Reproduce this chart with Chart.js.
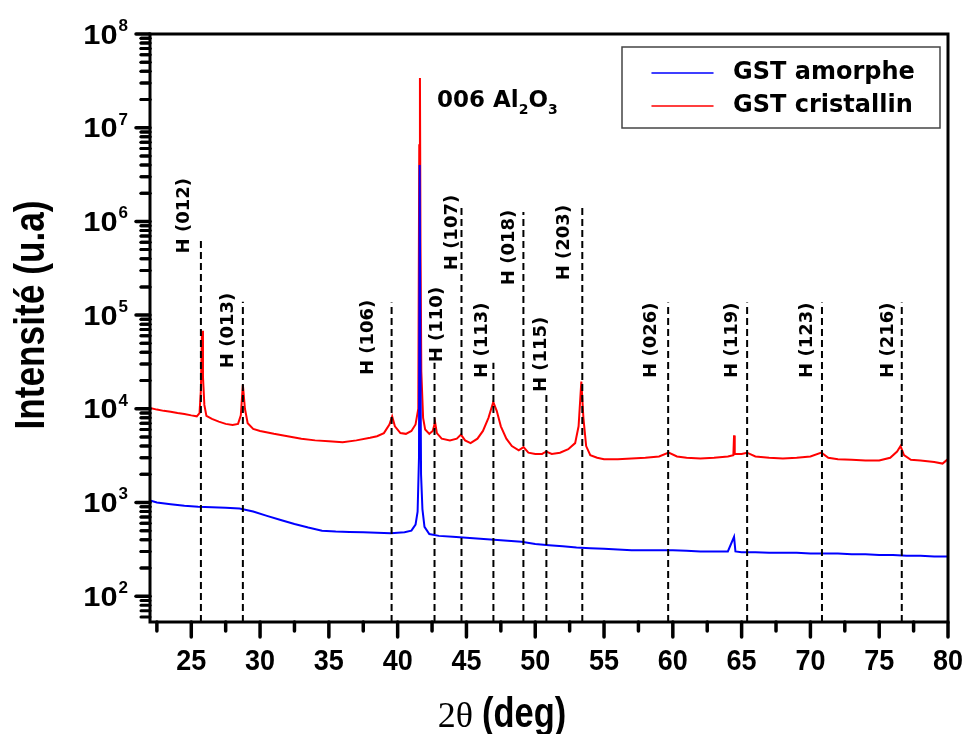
<!DOCTYPE html>
<html>
<head>
<meta charset="utf-8">
<script src="https://cdn.jsdelivr.net/npm/chart.js@4.4.1/dist/chart.umd.min.js"></script>
<style>
  body { margin: 0; background: #fff; }
  #wrap { width: 965px; height: 734px; }
</style>
</head>
<body>
<div id="wrap"><canvas id="cht-xrd" width="965" height="734"></canvas></div>
<script>
// 2theta (deg) / intensity
var amorpheTheta = [22, 22.5, 23.5, 24.5, 25.5, 26.5, 27.5, 28.5, 29.5, 30.5, 31.5, 32.5, 33.5, 34.5, 35.5, 36.5, 37.5, 38.5, 39.5, 40.5, 41, 41.3, 41.45, 41.55, 41.6, 41.65, 41.7, 41.8, 41.95, 42.3, 43, 44, 45, 46, 47, 48, 49, 50, 51, 52, 53, 54, 55, 56, 57, 58, 59, 60, 61, 62, 63, 64, 64.45, 64.55, 65, 66, 67, 68, 69, 70, 71, 72, 73, 74, 75, 76, 77, 78, 79, 80];
var amorpheCounts = [1050, 1000, 960, 920, 900, 890, 880, 860, 800, 720, 650, 590, 540, 500, 490, 485, 480, 475, 470, 480, 500, 580, 800, 3000, 4.0e6, 5.0e4, 2000, 850, 550, 460, 440, 430, 420, 410, 400, 390, 380, 360, 350, 340, 330, 325, 320, 315, 310, 310, 310, 310, 305, 300, 300, 300, 430, 300, 295, 295, 290, 290, 290, 285, 285, 285, 280, 280, 275, 275, 270, 270, 265, 265];

var cristallinTheta = [22, 22.5, 23, 23.5, 24, 24.5, 25, 25.4, 25.6, 25.7, 25.78, 25.85, 25.95, 26.1, 26.5, 27, 27.5, 28, 28.4, 28.6, 28.75, 28.9, 29.1, 29.5, 30, 31, 32, 33, 34, 35, 36, 37, 38, 38.5, 39, 39.4, 39.6, 39.8, 40.2, 40.6, 41, 41.3, 41.5, 41.57, 41.62, 41.66, 41.72, 41.85, 42, 42.3, 42.55, 42.72, 42.85, 43.2, 43.8, 44.3, 44.6, 44.9, 45.3, 45.8, 46.2, 46.6, 46.95, 47.2, 47.5, 47.9, 48.3, 48.8, 49.15, 49.5, 50, 50.5, 50.8, 51.2, 51.8, 52.4, 52.9, 53.15, 53.35, 53.5, 53.7, 54, 54.5, 55, 56, 57, 58, 59, 59.7, 60.3, 61, 62, 63, 64, 64.4, 64.45, 64.5, 65, 65.4, 66, 67, 68, 69, 70, 70.8, 71.3, 72, 73, 74, 75, 75.8, 76.3, 76.55, 76.8, 77.3, 78, 79, 79.6, 80];
var cristallinCounts = [10200, 9800, 9500, 9300, 9000, 8800, 8500, 8300, 9000, 16000, 68000, 22000, 11000, 8400, 7800, 7300, 6900, 6700, 6900, 8500, 18000, 10000, 7000, 6100, 5800, 5400, 5100, 4800, 4600, 4500, 4400, 4600, 4900, 5100, 5500, 6800, 8300, 6500, 5500, 5400, 5800, 6800, 10000, 6.5e6, 3.4e7, 6.0e5, 25000, 8000, 6000, 5400, 5800, 7200, 5500, 4800, 4600, 4800, 5300, 4600, 4300, 4800, 5800, 8000, 11800, 9500, 6500, 4800, 4000, 3600, 3900, 3400, 3300, 3300, 3500, 3300, 3400, 3700, 4300, 6500, 19500, 8000, 4000, 3200, 3000, 2900, 2900, 2950, 3000, 3100, 3400, 3100, 3000, 2950, 3000, 3100, 3200, 5200, 3300, 3300, 3400, 3100, 3000, 2950, 3000, 3100, 3400, 3000, 2900, 2850, 2800, 2800, 3000, 3500, 4000, 3200, 2850, 2800, 2700, 2600, 2900];

// hexagonal GST reflections: position, top of the dashed line, label anchor
var peakNames = ['H (012)', 'H (013)', 'H (106)', 'H (110)', 'H (107)', 'H (113)', 'H (018)', 'H (115)', 'H (203)', 'H (026)', 'H (119)', 'H (123)', 'H (216)'];
var peakTheta = [25.7, 28.75, 39.56, 42.68, 44.64, 46.96, 49.14, 50.81, 53.42, 59.66, 65.4, 70.84, 76.64];
var peakTop = [6.7e5, 1.39e5, 1.36e5, 3.1e4, 1.4e6, 3.1e4, 1.26e6, 1.52e4, 1.43e6, 1.36e5, 1.36e5, 1.36e5, 1.36e5];
var peakLabelTheta = [24.47, 27.66, 37.89, 42.9, 43.99, 46.17, 48.12, 50.45, 52.12, 58.43, 64.31, 69.75, 75.63];
var peakLabelTop = [2.9e6, 1.73e5, 1.46e5, 2.0e5, 1.92e6, 1.36e5, 1.33e6, 9.6e4, 1.5e6, 1.36e5, 1.36e5, 1.36e5, 1.36e5];

var xMajorTicks = [25, 30, 35, 40, 45, 50, 55, 60, 65, 70, 75, 80];
var xMinorTicks = [22.5, 27.5, 32.5, 37.5, 42.5, 47.5, 52.5, 57.5, 62.5, 67.5, 72.5, 77.5];
var yDecades = [2, 3, 4, 5, 6, 7, 8];

var xMin = 22, xMax = 80, yMin = 53, yMax = 1e8;

function pts(xs, ys) {
    return xs.map(function (x, i) { return { x: x, y: ys[i] }; });
}

var datasets = [];
peakTheta.forEach(function (t, i) {
    datasets.push({ data: [{ x: t, y: yMin }, { x: t, y: peakTop[i] }], borderColor: '#000', borderWidth: 2, borderDash: [7, 4], pointRadius: 0, order: 0 });
});
datasets.push({ label: 'GST amorphe', data: pts(amorpheTheta, amorpheCounts), borderColor: '#0000ff', borderWidth: 2, pointRadius: 0, order: 1 });
datasets.push({ label: 'GST cristallin', data: pts(cristallinTheta, cristallinCounts), borderColor: '#ff0000', borderWidth: 2, pointRadius: 0, order: 2 });

function txt(ctx, s, x, y, font, align, sx) {
    ctx.save();
    ctx.font = font;
    ctx.translate(x, y);
    ctx.scale(sx || 1, 1);
    ctx.textAlign = align || 'left';
    ctx.fillText(s, 0, 0);
    ctx.restore();
}

var decor = {
    id: 'decor',
    afterDraw: function (chart) {
        var ctx = chart.ctx, a = chart.chartArea;
        var xs = chart.scales.x, ys = chart.scales.y;
        ctx.save();
        ctx.fillStyle = '#000';
        ctx.strokeStyle = '#000';
        ctx.lineCap = 'round';

        // frame
        ctx.lineWidth = 3;
        ctx.strokeRect(a.left, a.top, a.right - a.left, a.bottom - a.top);

        // x ticks
        xMajorTicks.forEach(function (v) {
            var px = xs.getPixelForValue(v);
            ctx.lineWidth = 3.5;
            ctx.beginPath(); ctx.moveTo(px, a.bottom); ctx.lineTo(px, a.bottom + 15); ctx.stroke();
            ctx.textBaseline = 'alphabetic';
            txt(ctx, String(v), px, a.bottom + 48, 'bold 29px "Liberation Sans", Arial, sans-serif', 'center', 0.93);
        });
        xMinorTicks.forEach(function (v) {
            var px = xs.getPixelForValue(v);
            ctx.lineWidth = 3.5;
            ctx.beginPath(); ctx.moveTo(px, a.bottom); ctx.lineTo(px, a.bottom + 9); ctx.stroke();
        });

        // y ticks
        yDecades.forEach(function (d) {
            var py = ys.getPixelForValue(Math.pow(10, d));
            ctx.lineWidth = 3.5;
            ctx.beginPath(); ctx.moveTo(a.left, py); ctx.lineTo(a.left - 14, py); ctx.stroke();
            for (var m = 2; m <= 9; m++) {
                [d - 1, d].forEach(function (dd) {
                    var v = m * Math.pow(10, dd);
                    if (v < yMin || v > yMax) return;
                    var q = ys.getPixelForValue(v);
                    ctx.lineWidth = 3;
                    ctx.beginPath(); ctx.moveTo(a.left, q); ctx.lineTo(a.left - 9, q); ctx.stroke();
                });
            }
            ctx.font = 'bold 17px "Liberation Sans", Arial, sans-serif';
            var ew = ctx.measureText(String(d)).width;
            ctx.textBaseline = 'alphabetic';
            txt(ctx, String(d), 128 - ew, py - 3, 'bold 17px "Liberation Sans", Arial, sans-serif', 'left', 1);
            ctx.textBaseline = 'middle';
            txt(ctx, '10', 127 - ew, py + 2, 'bold 28px "Liberation Sans", Arial, sans-serif', 'right', 1.1);
        });

        // axis titles
        ctx.textBaseline = 'middle';
        ctx.save();
        ctx.translate(32, 315);
        ctx.rotate(-Math.PI / 2);
        txt(ctx, 'Intensité (u.a)', 0, 0, 'bold 43px "Liberation Sans", Arial, sans-serif', 'center', 0.82);
        ctx.restore();
        ctx.textBaseline = 'alphabetic';
        ctx.font = '36px "Liberation Serif", "Times New Roman", serif';
        var w2 = ctx.measureText('2θ ').width;
        ctx.font = 'bold 42px "Liberation Sans", Arial, sans-serif';
        var wd = ctx.measureText('(deg)').width * 0.82;
        var x0 = 502 - (w2 + wd) / 2;
        txt(ctx, '2θ', x0, 727, '36px "Liberation Serif", "Times New Roman", serif', 'left', 1);
        txt(ctx, '(deg)', x0 + w2, 727, 'bold 42px "Liberation Sans", Arial, sans-serif', 'left', 0.82);

        // peak labels
        ctx.textBaseline = 'middle';
        peakNames.forEach(function (n, i) {
            var px = xs.getPixelForValue(peakLabelTheta[i]);
            var py = ys.getPixelForValue(peakLabelTop[i]);
            ctx.save();
            ctx.translate(px, py);
            ctx.rotate(-Math.PI / 2);
            txt(ctx, n, 0, 0, 'bold 18px "DejaVu Sans", Verdana, sans-serif', 'right', 1);
            ctx.restore();
        });

        // substrate peak note
        ctx.textBaseline = 'alphabetic';
        var f1 = 'bold 23px "DejaVu Sans", Verdana, sans-serif', f2 = 'bold 14px "DejaVu Sans", Verdana, sans-serif';
        var x = 437, base = 107;
        ctx.font = f1; txt(ctx, '006 Al', x, base, f1); x += ctx.measureText('006 Al').width;
        ctx.font = f2; txt(ctx, '2', x, base + 7, f2); x += ctx.measureText('2').width;
        ctx.font = f1; txt(ctx, 'O', x, base, f1); x += ctx.measureText('O').width;
        txt(ctx, '3', x, base + 7, f2);

        // legend
        ctx.lineWidth = 1.5;
        ctx.strokeStyle = '#444';
        ctx.strokeRect(622, 47, 318, 81);
        var items = chart.data.datasets.filter(function (d) { return d.label; });
        items.forEach(function (d, i) {
            var ly = 73 + i * 33;
            ctx.strokeStyle = d.borderColor;
            ctx.lineWidth = 1.5;
            ctx.beginPath(); ctx.moveTo(652, ly); ctx.lineTo(713, ly); ctx.stroke();
            ctx.textBaseline = 'middle';
            txt(ctx, d.label, 733, ly, 'bold 24px "DejaVu Sans", Verdana, sans-serif', 'left', 1);
        });
        ctx.restore();
    }
};

new Chart(document.getElementById('cht-xrd'), {
    type: 'line',
    data: { datasets: datasets },
    options: {
        responsive: false,
        animation: false,
        layout: { padding: { top: 34, right: 17, left: 0, bottom: 0 } },
        plugins: { legend: { display: false }, tooltip: { enabled: false } },
        elements: { line: { tension: 0 } },
        scales: {
            x: { type: 'linear', min: xMin, max: xMax, ticks: { display: false }, grid: { display: false }, border: { display: false },
                 afterFit: function (s) { s.height = 112; } },
            y: { type: 'logarithmic', min: yMin, max: yMax, ticks: { display: false }, grid: { display: false }, border: { display: false },
                 afterFit: function (s) { s.width = 150; } }
        }
    },
    plugins: [decor]
});
</script>
</body>
</html>
